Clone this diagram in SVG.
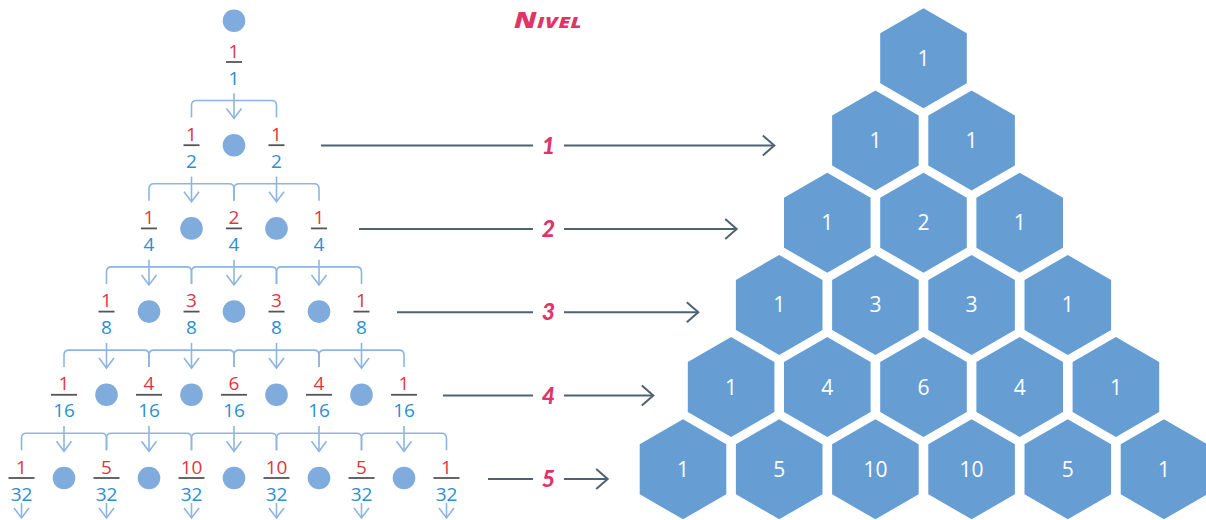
<svg xmlns="http://www.w3.org/2000/svg" width="1206" height="520" viewBox="0 0 1206 520">
<style>
.num{font-family:"Open Sans","Noto Sans",sans-serif;font-size:19px;fill:#e2363f;text-anchor:middle}
.den{font-family:"Open Sans","Noto Sans",sans-serif;font-size:19px;fill:#2b8fd1;text-anchor:middle}
.bar{stroke:#555;stroke-width:1.8}
.dot{fill:#80abdd}
.tree{fill:none;stroke:#8db5e2;stroke-width:1.6}
.tarr{fill:none;stroke:#8db5e2;stroke-width:1.6;marker-end:url(#ta)}
.lvl{fill:none;stroke:#4f6272;stroke-width:2}
.lvla{fill:none;stroke:#4f6272;stroke-width:2;marker-end:url(#la)}
.lbl{font-family:Lato,"Open Sans",sans-serif;font-weight:900;font-style:italic;font-size:23px;fill:#e03468;text-anchor:middle}
.hex{fill:#669ed4}
.ht{font-family:"Open Sans","Noto Sans",sans-serif;font-size:21px;fill:#fff;text-anchor:middle}
</style>
<defs>
<marker id="ta" markerUnits="userSpaceOnUse" viewBox="-12 -10 14 20" markerWidth="14" markerHeight="20" refX="0" refY="0" orient="auto">
<path d="M-10,-7.5 L0,0 L-10,7.5" fill="none" stroke="#8db5e2" stroke-width="1.6"/>
</marker>
<marker id="la" markerUnits="userSpaceOnUse" viewBox="-14 -12 16 24" markerWidth="16" markerHeight="24" refX="0" refY="0" orient="auto">
<path d="M-11.5,-10 L0,0 L-11.5,10" fill="none" stroke="#4f6272" stroke-width="2"/>
</marker>
<polygon id="hx" points="0,-50 43.3,-25 43.3,25 0,50 -43.3,25 -43.3,-25"/>
</defs>

<g transform="translate(514,27.7) scale(1.3,1)"><text x="0" y="0" font-family="'Open Sans',Lato,sans-serif" font-weight="800" font-style="italic" fill="#e03468" textLength="52" lengthAdjust="spacing"><tspan font-size="22">N</tspan><tspan font-size="16">IVEL</tspan></text></g>

<g id="connectors">
<path class="tarr" d="M234,93.3 V118.5"/>
<path class="tarr" d="M191.5,176.5 V201.7"/>
<path class="tarr" d="M276.5,176.5 V201.7"/>
<path class="tarr" d="M149,259.7 V284.9"/>
<path class="tarr" d="M234,259.7 V284.9"/>
<path class="tarr" d="M319,259.7 V284.9"/>
<path class="tarr" d="M106.5,342.9 V368.1"/>
<path class="tarr" d="M191.5,342.9 V368.1"/>
<path class="tarr" d="M276.5,342.9 V368.1"/>
<path class="tarr" d="M361.5,342.9 V368.1"/>
<path class="tarr" d="M64,426.1 V451.3"/>
<path class="tarr" d="M149,426.1 V451.3"/>
<path class="tarr" d="M234,426.1 V451.3"/>
<path class="tarr" d="M319,426.1 V451.3"/>
<path class="tarr" d="M404,426.1 V451.3"/>
<path class="tarr" d="M21.5,503 V518"/>
<path class="tarr" d="M106.5,503 V518"/>
<path class="tarr" d="M191.5,503 V518"/>
<path class="tarr" d="M276.5,503 V518"/>
<path class="tarr" d="M361.5,503 V518"/>
<path class="tarr" d="M446.5,503 V518"/>

<path class="tree" d="M191.5,117.5 V105.5 Q191.5,100.5 196.5,100.5 H271.5 Q276.5,100.5 276.5,105.5 V117.5"/>
<path class="tree" d="M149,200.7 V188.7 Q149,183.7 154,183.7 H229 Q234,183.7 234,188.7 V200.7"/>
<path class="tree" d="M234,200.7 V188.7 Q234,183.7 239,183.7 H314 Q319,183.7 319,188.7 V200.7"/>
<path class="tree" d="M106.5,283.9 V271.9 Q106.5,266.9 111.5,266.9 H186.5 Q191.5,266.9 191.5,271.9 V283.9"/>
<path class="tree" d="M191.5,283.9 V271.9 Q191.5,266.9 196.5,266.9 H271.5 Q276.5,266.9 276.5,271.9 V283.9"/>
<path class="tree" d="M276.5,283.9 V271.9 Q276.5,266.9 281.5,266.9 H356.5 Q361.5,266.9 361.5,271.9 V283.9"/>
<path class="tree" d="M64,367.1 V355.1 Q64,350.1 69,350.1 H144 Q149,350.1 149,355.1 V367.1"/>
<path class="tree" d="M149,367.1 V355.1 Q149,350.1 154,350.1 H229 Q234,350.1 234,355.1 V367.1"/>
<path class="tree" d="M234,367.1 V355.1 Q234,350.1 239,350.1 H314 Q319,350.1 319,355.1 V367.1"/>
<path class="tree" d="M319,367.1 V355.1 Q319,350.1 324,350.1 H399 Q404,350.1 404,355.1 V367.1"/>
<path class="tree" d="M21.5,450.3 V438.3 Q21.5,433.3 26.5,433.3 H101.5 Q106.5,433.3 106.5,438.3 V450.3"/>
<path class="tree" d="M106.5,450.3 V438.3 Q106.5,433.3 111.5,433.3 H186.5 Q191.5,433.3 191.5,438.3 V450.3"/>
<path class="tree" d="M191.5,450.3 V438.3 Q191.5,433.3 196.5,433.3 H271.5 Q276.5,433.3 276.5,438.3 V450.3"/>
<path class="tree" d="M276.5,450.3 V438.3 Q276.5,433.3 281.5,433.3 H356.5 Q361.5,433.3 361.5,438.3 V450.3"/>
<path class="tree" d="M361.5,450.3 V438.3 Q361.5,433.3 366.5,433.3 H441.5 Q446.5,433.3 446.5,438.3 V450.3"/>

<path class="lvl" d="M321,145.5 H533"/><path class="lvla" d="M564,145.5 H774.3"/>
<path class="lvl" d="M359,229 H533"/><path class="lvla" d="M564,229 H736.7"/>
<path class="lvl" d="M397,312.3 H533"/><path class="lvla" d="M564,312.3 H698.3"/>
<path class="lvl" d="M443,395.5 H533"/><path class="lvla" d="M564,395.5 H653.3"/>
<path class="lvl" d="M488,479 H533"/><path class="lvla" d="M564,479 H607.7"/>
</g>

<g id="level-labels">
<text class="lbl" x="548.5" y="153.5">1</text>
<text class="lbl" x="548.5" y="237">2</text>
<text class="lbl" x="548.5" y="320.3">3</text>
<text class="lbl" x="548.5" y="403.5">4</text>
<text class="lbl" x="548.5" y="487">5</text>
</g>

<g id="dots">
<circle class="dot" cx="234" cy="20.7" r="11.3"/>
<circle class="dot" cx="234" cy="145.2" r="11.3"/>
<circle class="dot" cx="191.5" cy="228.4" r="11.3"/>
<circle class="dot" cx="276.5" cy="228.4" r="11.3"/>
<circle class="dot" cx="149" cy="311.6" r="11.3"/>
<circle class="dot" cx="234" cy="311.6" r="11.3"/>
<circle class="dot" cx="319" cy="311.6" r="11.3"/>
<circle class="dot" cx="106.5" cy="394.8" r="11.3"/>
<circle class="dot" cx="191.5" cy="394.8" r="11.3"/>
<circle class="dot" cx="276.5" cy="394.8" r="11.3"/>
<circle class="dot" cx="361.5" cy="394.8" r="11.3"/>
<circle class="dot" cx="64" cy="478" r="11.3"/>
<circle class="dot" cx="149" cy="478" r="11.3"/>
<circle class="dot" cx="234" cy="478" r="11.3"/>
<circle class="dot" cx="319" cy="478" r="11.3"/>
<circle class="dot" cx="404" cy="478" r="11.3"/>
</g>

<g id="f0-0"><text class="num" x="234" y="57.5">1</text><line class="bar" x1="226" y1="62" x2="242" y2="62"/><text class="den" x="234" y="84.5">1</text></g>

<g id="f1-0"><text class="num" x="191.5" y="140.7">1</text><line class="bar" x1="183.5" y1="145.2" x2="199.5" y2="145.2"/><text class="den" x="191.5" y="167.7">2</text></g>
<g id="f1-1"><text class="num" x="276.5" y="140.7">1</text><line class="bar" x1="268.5" y1="145.2" x2="284.5" y2="145.2"/><text class="den" x="276.5" y="167.7">2</text></g>

<g id="f2-0"><text class="num" x="149" y="223.9">1</text><line class="bar" x1="141" y1="228.4" x2="157" y2="228.4"/><text class="den" x="149" y="250.9">4</text></g>
<g id="f2-1"><text class="num" x="234" y="223.9">2</text><line class="bar" x1="226" y1="228.4" x2="242" y2="228.4"/><text class="den" x="234" y="250.9">4</text></g>
<g id="f2-2"><text class="num" x="319" y="223.9">1</text><line class="bar" x1="311" y1="228.4" x2="327" y2="228.4"/><text class="den" x="319" y="250.9">4</text></g>

<g id="f3-0"><text class="num" x="106.5" y="307.1">1</text><line class="bar" x1="98.5" y1="311.6" x2="114.5" y2="311.6"/><text class="den" x="106.5" y="334.1">8</text></g>
<g id="f3-1"><text class="num" x="191.5" y="307.1">3</text><line class="bar" x1="183.5" y1="311.6" x2="199.5" y2="311.6"/><text class="den" x="191.5" y="334.1">8</text></g>
<g id="f3-2"><text class="num" x="276.5" y="307.1">3</text><line class="bar" x1="268.5" y1="311.6" x2="284.5" y2="311.6"/><text class="den" x="276.5" y="334.1">8</text></g>
<g id="f3-3"><text class="num" x="361.5" y="307.1">1</text><line class="bar" x1="353.5" y1="311.6" x2="369.5" y2="311.6"/><text class="den" x="361.5" y="334.1">8</text></g>

<g id="f4-0"><text class="num" x="64" y="390.3">1</text><line class="bar" x1="51" y1="394.8" x2="77" y2="394.8"/><text class="den" x="64" y="417.3">16</text></g>
<g id="f4-1"><text class="num" x="149" y="390.3">4</text><line class="bar" x1="136" y1="394.8" x2="162" y2="394.8"/><text class="den" x="149" y="417.3">16</text></g>
<g id="f4-2"><text class="num" x="234" y="390.3">6</text><line class="bar" x1="221" y1="394.8" x2="247" y2="394.8"/><text class="den" x="234" y="417.3">16</text></g>
<g id="f4-3"><text class="num" x="319" y="390.3">4</text><line class="bar" x1="306" y1="394.8" x2="332" y2="394.8"/><text class="den" x="319" y="417.3">16</text></g>
<g id="f4-4"><text class="num" x="404" y="390.3">1</text><line class="bar" x1="391" y1="394.8" x2="417" y2="394.8"/><text class="den" x="404" y="417.3">16</text></g>

<g id="f5-0"><text class="num" x="21.5" y="473.5">1</text><line class="bar" x1="8.5" y1="478" x2="34.5" y2="478"/><text class="den" x="21.5" y="500.5">32</text></g>
<g id="f5-1"><text class="num" x="106.5" y="473.5">5</text><line class="bar" x1="93.5" y1="478" x2="119.5" y2="478"/><text class="den" x="106.5" y="500.5">32</text></g>
<g id="f5-2"><text class="num" x="191.5" y="473.5">10</text><line class="bar" x1="178.5" y1="478" x2="204.5" y2="478"/><text class="den" x="191.5" y="500.5">32</text></g>
<g id="f5-3"><text class="num" x="276.5" y="473.5">10</text><line class="bar" x1="263.5" y1="478" x2="289.5" y2="478"/><text class="den" x="276.5" y="500.5">32</text></g>
<g id="f5-4"><text class="num" x="361.5" y="473.5">5</text><line class="bar" x1="348.5" y1="478" x2="374.5" y2="478"/><text class="den" x="361.5" y="500.5">32</text></g>
<g id="f5-5"><text class="num" x="446.5" y="473.5">1</text><line class="bar" x1="433.5" y1="478" x2="459.5" y2="478"/><text class="den" x="446.5" y="500.5">32</text></g>

<g id="h0-0"><use href="#hx" class="hex" x="923.5" y="58.3"/><text class="ht" x="923.5" y="65.8">1</text></g>
<g id="h1-0"><use href="#hx" class="hex" x="875.4" y="140.5"/><text class="ht" x="875.4" y="148">1</text></g>
<g id="h1-1"><use href="#hx" class="hex" x="971.6" y="140.5"/><text class="ht" x="971.6" y="148">1</text></g>
<g id="h2-0"><use href="#hx" class="hex" x="827.3" y="222.7"/><text class="ht" x="827.3" y="230.2">1</text></g>
<g id="h2-1"><use href="#hx" class="hex" x="923.5" y="222.7"/><text class="ht" x="923.5" y="230.2">2</text></g>
<g id="h2-2"><use href="#hx" class="hex" x="1019.7" y="222.7"/><text class="ht" x="1019.7" y="230.2">1</text></g>
<g id="h3-0"><use href="#hx" class="hex" x="779.2" y="304.9"/><text class="ht" x="779.2" y="312.4">1</text></g>
<g id="h3-1"><use href="#hx" class="hex" x="875.4" y="304.9"/><text class="ht" x="875.4" y="312.4">3</text></g>
<g id="h3-2"><use href="#hx" class="hex" x="971.6" y="304.9"/><text class="ht" x="971.6" y="312.4">3</text></g>
<g id="h3-3"><use href="#hx" class="hex" x="1067.8" y="304.9"/><text class="ht" x="1067.8" y="312.4">1</text></g>
<g id="h4-0"><use href="#hx" class="hex" x="731.1" y="387.1"/><text class="ht" x="731.1" y="394.6">1</text></g>
<g id="h4-1"><use href="#hx" class="hex" x="827.3" y="387.1"/><text class="ht" x="827.3" y="394.6">4</text></g>
<g id="h4-2"><use href="#hx" class="hex" x="923.5" y="387.1"/><text class="ht" x="923.5" y="394.6">6</text></g>
<g id="h4-3"><use href="#hx" class="hex" x="1019.7" y="387.1"/><text class="ht" x="1019.7" y="394.6">4</text></g>
<g id="h4-4"><use href="#hx" class="hex" x="1115.9" y="387.1"/><text class="ht" x="1115.9" y="394.6">1</text></g>
<g id="h5-0"><use href="#hx" class="hex" x="683" y="469.3"/><text class="ht" x="683" y="476.8">1</text></g>
<g id="h5-1"><use href="#hx" class="hex" x="779.2" y="469.3"/><text class="ht" x="779.2" y="476.8">5</text></g>
<g id="h5-2"><use href="#hx" class="hex" x="875.4" y="469.3"/><text class="ht" x="875.4" y="476.8">10</text></g>
<g id="h5-3"><use href="#hx" class="hex" x="971.6" y="469.3"/><text class="ht" x="971.6" y="476.8">10</text></g>
<g id="h5-4"><use href="#hx" class="hex" x="1067.8" y="469.3"/><text class="ht" x="1067.8" y="476.8">5</text></g>
<g id="h5-5"><use href="#hx" class="hex" x="1164" y="469.3"/><text class="ht" x="1164" y="476.8">1</text></g>
</svg>
